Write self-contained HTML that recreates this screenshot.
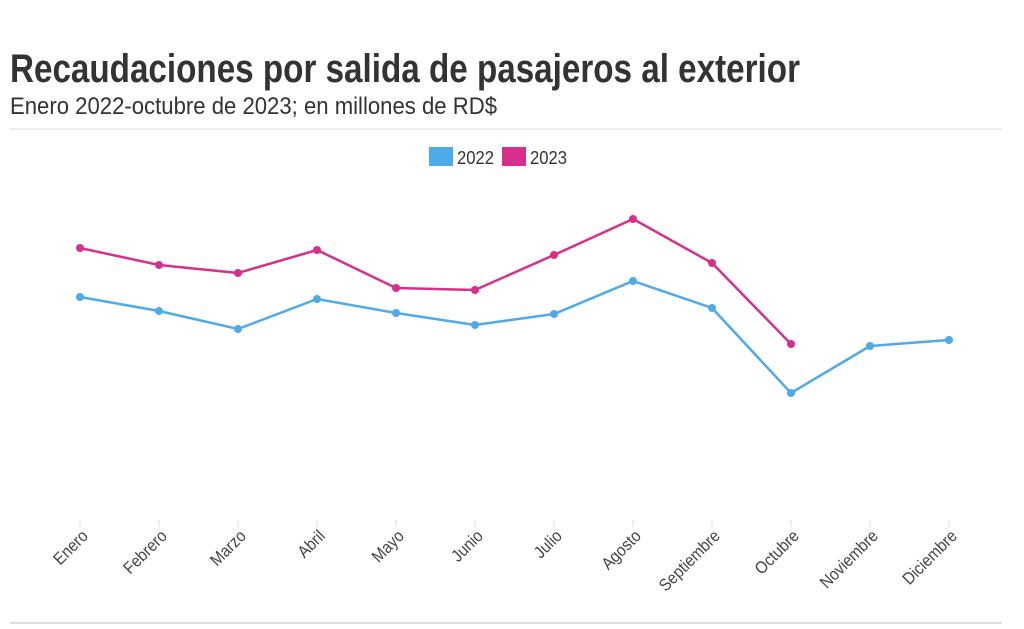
<!DOCTYPE html><html><head><meta charset="utf-8"><style>
body{margin:0;width:1024px;height:629px;background:#fff;overflow:hidden;font-family:"Liberation Sans",sans-serif;}
</style></head><body>
<svg width="1024" height="629" xmlns="http://www.w3.org/2000/svg" style="position:absolute;left:0;top:0" font-family="Liberation Sans, sans-serif">
<text x="10" y="82" font-weight="bold" font-size="40" fill="#333" textLength="790" lengthAdjust="spacingAndGlyphs">Recaudaciones por salida de pasajeros al exterior</text>
<text x="10" y="114" font-size="24" fill="#333" textLength="487" lengthAdjust="spacingAndGlyphs">Enero 2022-octubre de 2023; en millones de RD$</text>
<line x1="10" y1="129" x2="1002" y2="129" stroke="#ddd" stroke-width="1"/>
<line x1="10" y1="623" x2="1002" y2="623" stroke="#ddd" stroke-width="2"/>
<rect x="429" y="147" width="24" height="19" fill="#4eaae8"/>
<text x="457" y="164" font-size="18" fill="#333" textLength="37" lengthAdjust="spacingAndGlyphs">2022</text>
<rect x="502" y="147" width="24" height="19" fill="#d82e8c"/>
<text x="530" y="164" font-size="18" fill="#333" textLength="37" lengthAdjust="spacingAndGlyphs">2023</text>
<g stroke="#ddd" stroke-width="1">
<line x1="80" y1="520" x2="80" y2="527"/><line x1="159" y1="520" x2="159" y2="527"/><line x1="238" y1="520" x2="238" y2="527"/><line x1="317" y1="520" x2="317" y2="527"/><line x1="396" y1="520" x2="396" y2="527"/><line x1="475" y1="520" x2="475" y2="527"/><line x1="554" y1="520" x2="554" y2="527"/><line x1="633" y1="520" x2="633" y2="527"/><line x1="712" y1="520" x2="712" y2="527"/><line x1="791" y1="520" x2="791" y2="527"/><line x1="870" y1="520" x2="870" y2="527"/><line x1="949" y1="520" x2="949" y2="527"/>
</g>
<g font-size="17" fill="#444" text-anchor="end">
<text transform="translate(89,537) rotate(-45) scale(0.9,1)">Enero</text>
<text transform="translate(168,537) rotate(-45) scale(0.9,1)">Febrero</text>
<text transform="translate(247,537) rotate(-45) scale(0.9,1)">Marzo</text>
<text transform="translate(326,537) rotate(-45) scale(0.9,1)">Abril</text>
<text transform="translate(405,537) rotate(-45) scale(0.9,1)">Mayo</text>
<text transform="translate(484,537) rotate(-45) scale(0.9,1)">Junio</text>
<text transform="translate(563,537) rotate(-45) scale(0.9,1)">Julio</text>
<text transform="translate(642,537) rotate(-45) scale(0.9,1)">Agosto</text>
<text transform="translate(721,537) rotate(-45) scale(0.9,1)">Septiembre</text>
<text transform="translate(800,537) rotate(-45) scale(0.9,1)">Octubre</text>
<text transform="translate(879,537) rotate(-45) scale(0.9,1)">Noviembre</text>
<text transform="translate(958,537) rotate(-45) scale(0.9,1)">Diciembre</text>
</g>
<polyline fill="none" stroke="#4eaae8" stroke-width="2.5" points="80,297 159,311 238,329 317,299 396,313 475,325 554,314 633,281 712,308 791,393 870,346 949,340"/>
<polyline fill="none" stroke="#d82e8c" stroke-width="2.5" points="80,248 159,265 238,273 317,250 396,288 475,290 554,255 633,219 712,263 791,344"/>
<g fill="#4eaae8">
<circle cx="80" cy="297" r="4"/><circle cx="159" cy="311" r="4"/><circle cx="238" cy="329" r="4"/><circle cx="317" cy="299" r="4"/><circle cx="396" cy="313" r="4"/><circle cx="475" cy="325" r="4"/><circle cx="554" cy="314" r="4"/><circle cx="633" cy="281" r="4"/><circle cx="712" cy="308" r="4"/><circle cx="791" cy="393" r="4"/><circle cx="870" cy="346" r="4"/><circle cx="949" cy="340" r="4"/>
</g>
<g fill="#d82e8c">
<circle cx="80" cy="248" r="4"/><circle cx="159" cy="265" r="4"/><circle cx="238" cy="273" r="4"/><circle cx="317" cy="250" r="4"/><circle cx="396" cy="288" r="4"/><circle cx="475" cy="290" r="4"/><circle cx="554" cy="255" r="4"/><circle cx="633" cy="219" r="4"/><circle cx="712" cy="263" r="4"/><circle cx="791" cy="344" r="4"/>
</g>
</svg>
</body></html>
